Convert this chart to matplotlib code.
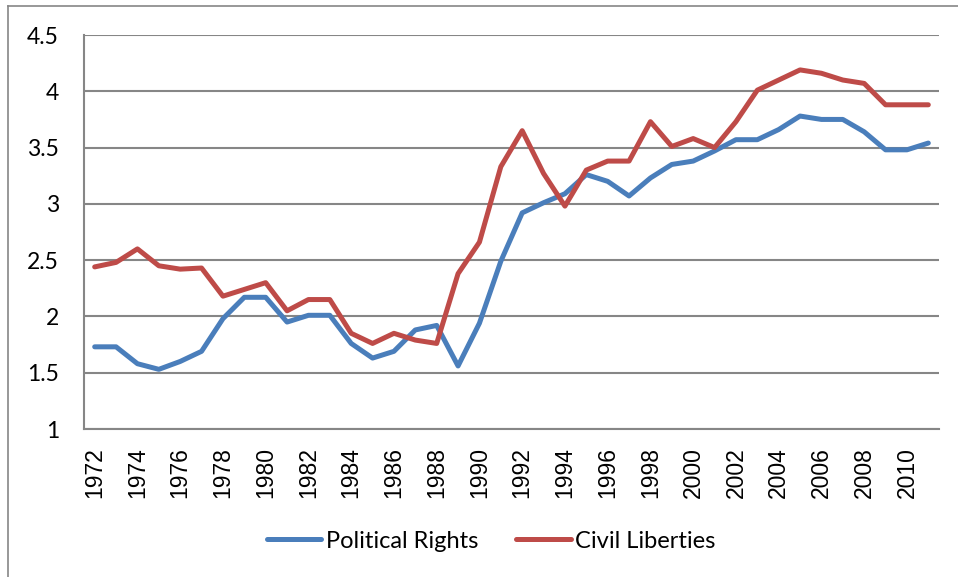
import matplotlib
matplotlib.use("Agg")
import matplotlib.pyplot as plt
from matplotlib.lines import Line2D

years = list(range(1972, 2012))
political_rights = [
    1.73, 1.73, 1.58, 1.53, 1.60, 1.69, 1.98, 2.17, 2.17, 1.95,
    2.01, 2.01, 1.76, 1.63, 1.69, 1.88, 1.92, 1.56, 1.94, 2.49,
    2.92, 3.01, 3.09, 3.26, 3.20, 3.07, 3.23, 3.35, 3.38, 3.47,
    3.57, 3.57, 3.66, 3.78, 3.75, 3.75, 3.64, 3.48, 3.48, 3.54,
]
civil_liberties = [
    2.44, 2.48, 2.60, 2.45, 2.42, 2.43, 2.18, 2.24, 2.30, 2.05,
    2.15, 2.15, 1.85, 1.76, 1.85, 1.79, 1.76, 2.38, 2.66, 3.33,
    3.65, 3.27, 2.98, 3.30, 3.38, 3.38, 3.73, 3.51, 3.58, 3.50,
    3.73, 4.01, 4.10, 4.19, 4.16, 4.10, 4.07, 3.88, 3.88, 3.88,
]
y_ticks = [1, 1.5, 2, 2.5, 3, 3.5, 4, 4.5]
y_tick_labels = ["1", "1.5", "2", "2.5", "3", "3.5", "4", "4.5"]

blue = "#4A7EBB"
red = "#BE4B48"
grid_color = "#868686"

W, H = 958, 577
fig = plt.figure(figsize=(W / 100, H / 100), dpi=100)
ax = fig.add_axes([84 / W, 1 - 429 / H, (939 - 84) / W, (429 - 35) / H])

ax.plot(years, political_rights, color=blue, lw=3.6, label="Political Rights",
        solid_capstyle="round", solid_joinstyle="round")
ax.plot(years, civil_liberties, color=red, lw=3.6, label="Civil Liberties",
        solid_capstyle="round", solid_joinstyle="round")

ax.set_xlim(1971.5, 2011.5)
ax.set_ylim(1, 4.5)
ax.set_yticks(y_ticks)
ax.set_yticklabels(y_tick_labels, fontfamily="Lato", fontsize=16.5)
ax.set_xticks(years[::2])
ax.set_xticklabels([str(y) for y in years[::2]], rotation=90,
                   fontfamily="Liberation Sans", fontsize=16.5)
ax.tick_params(axis="y", length=0, pad=18)
ax.tick_params(axis="x", length=0, pad=13)

ax.grid(axis="y", color=grid_color, lw=1.5)
ax.set_axisbelow(True)
for side in ("top", "right"):
    ax.spines[side].set_visible(False)
for side in ("left", "bottom"):
    ax.spines[side].set_color(grid_color)
    ax.spines[side].set_linewidth(1.5)

leg = fig.legend(loc="center", bbox_to_anchor=(0.513, 1 - 541 / H), ncol=2,
                 frameon=False, prop={"family": "Lato", "size": 17},
                 handlelength=2.3, handletextpad=0.2, columnspacing=1.6)

# outer chart frame (only top and left edges fall inside the image)
fig.add_artist(Line2D([7.5 / W, 1], [1 - 6 / H, 1 - 6 / H], color=grid_color, lw=1.2))
fig.add_artist(Line2D([7.5 / W, 7.5 / W], [0, 1 - 6 / H], color=grid_color, lw=1.2))

fig.savefig("out.png", dpi=100)
